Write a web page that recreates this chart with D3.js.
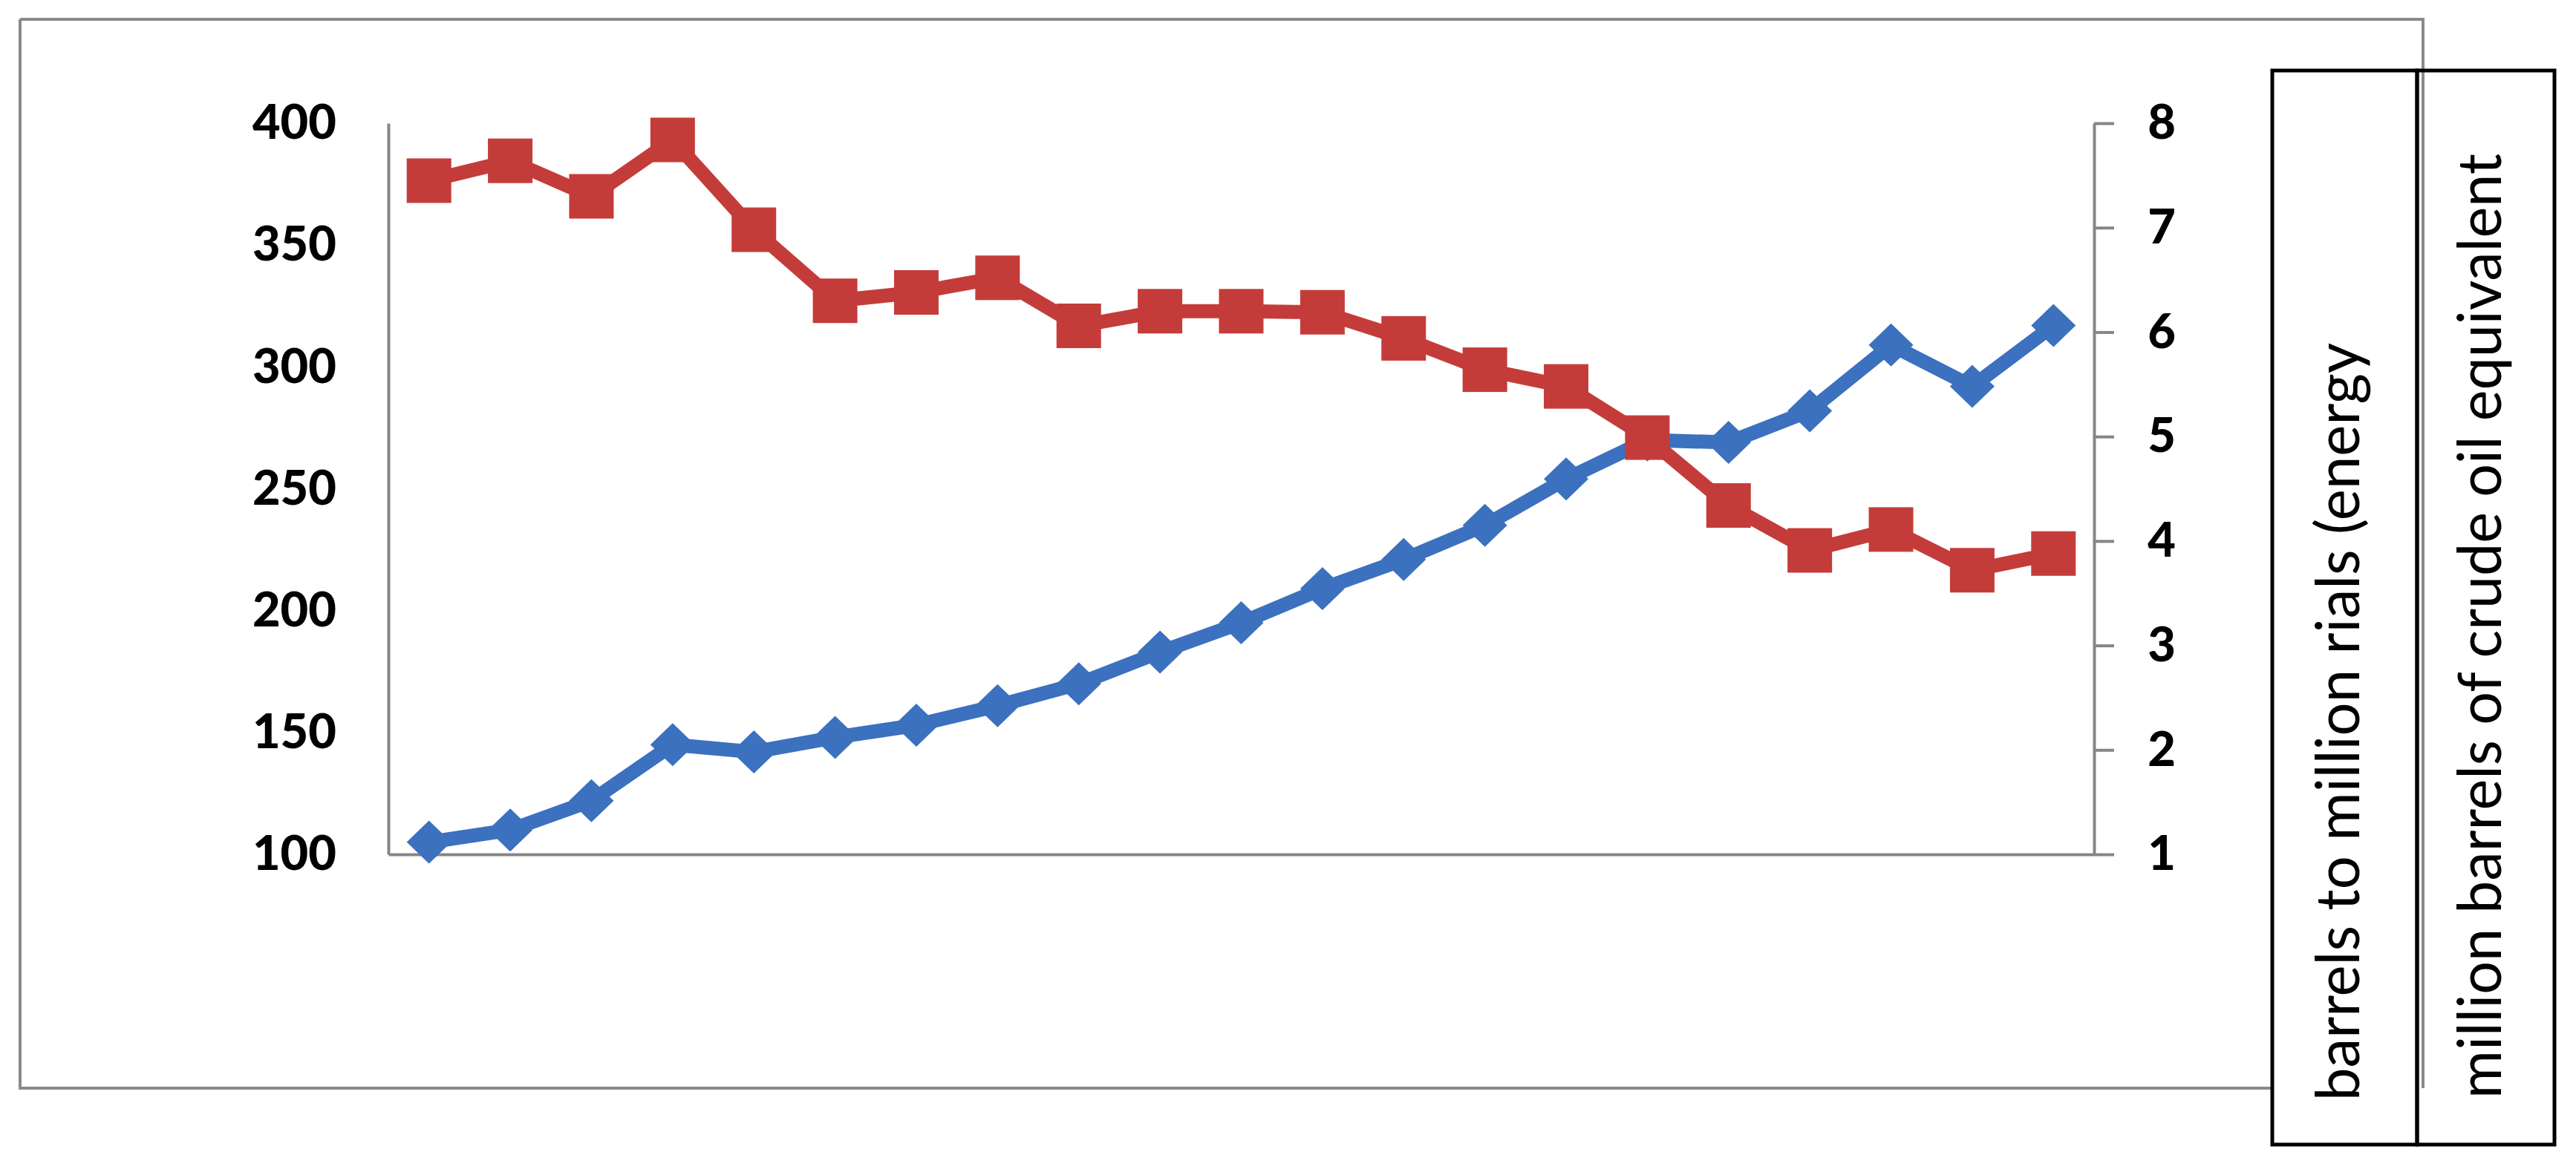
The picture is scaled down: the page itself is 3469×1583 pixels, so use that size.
<!DOCTYPE html>
<html>
<head>
<meta charset="utf-8">
<script src="https://cdn.jsdelivr.net/npm/d3@7"></script>
<style>
  html, body { margin: 0; padding: 0; background: #fff; }
  #chart-canvas svg { display: block; }
</style>
</head>
<body>
<div id="chart-canvas"></div>
<script>
// 21 yearly observations, the x axis carries no labels in the original
var YEARS = d3.range(1, 22);

// left axis: million barrels of crude oil equivalent
var CONSUMPTION = [105, 110, 122, 145, 142, 148, 153, 161, 170, 183, 195,
  209, 221, 235, 254, 270, 269, 282, 309, 292, 317];

// right axis: barrels to million rials (energy intensity)
var INTENSITY = [7.45, 7.64, 7.30, 7.84, 6.98, 6.30, 6.38, 6.52, 6.06, 6.20, 6.20,
  6.19, 5.94, 5.64, 5.48, 4.99, 4.34, 3.91, 4.11, 3.72, 3.88];

var LEFT_TICKS = [100, 150, 200, 250, 300, 350, 400];
var RIGHT_TICKS = [1, 2, 3, 4, 5, 6, 7, 8];

var LABEL_INTENSITY = "barrels to million rials (energy";
var LABEL_CONSUMPTION = "million barrels of crude oil equivalent";

var W = 3469, H = 1583;
var plot = { left: 523, right: 2820, top: 166, bottom: 1151 };
var AXIS_GREY = "#868686";
var BLUE = "#3b71be", RED = "#c43c3a";

var svg = d3.select("#chart-canvas").append("svg")
  .attr("width", W).attr("height", H)
  .style("font-family", "Lato, 'Open Sans', sans-serif");

svg.append("rect").attr("width", W).attr("height", H).attr("fill", "#fff");

// outer chart frame (bottom edge stops where the label boxes start)
var frame = svg.append("g").attr("stroke", "#8a8a8a").attr("stroke-width", 4).attr("fill", "none");
frame.append("path").attr("d", "M27,26 L3263,26 L3263,1466");
frame.append("path").attr("d", "M27,26 L27,1466 L3060,1466");

var x = d3.scalePoint().domain(YEARS).range([plot.left, plot.right]).padding(0.5);
var yLeft = d3.scaleLinear().domain([100, 400]).range([plot.bottom, plot.top]);
var yRight = d3.scaleLinear().domain([1, 8]).range([plot.bottom, plot.top]);

// axes
var gLeft = svg.append("g").attr("transform", "translate(" + plot.left + ",0)")
  .call(d3.axisLeft(yLeft).tickValues(LEFT_TICKS).tickFormat(d3.format("d"))
    .tickSize(0).tickPadding(70));

var gRight = svg.append("g").attr("transform", "translate(" + plot.right + ",0)")
  .call(d3.axisRight(yRight).tickValues(RIGHT_TICKS).tickFormat(d3.format("d"))
    .tickSizeInner(27).tickSizeOuter(0).tickPadding(64));

var gBottom = svg.append("g").attr("transform", "translate(0," + plot.bottom + ")")
  .call(d3.axisBottom(x).tickSize(0).tickFormat(""));

[gLeft, gRight, gBottom].forEach(function(g) {
  g.select(".domain").attr("stroke", AXIS_GREY).attr("stroke-width", 4);
  g.selectAll(".tick line").attr("stroke", AXIS_GREY).attr("stroke-width", 4);
  g.selectAll(".tick text")
    .attr("fill", "#000")
    .style("font-family", "Lato, sans-serif")
    .style("font-weight", "900")
    .style("font-size", "65px");
});
gRight.selectAll(".tick text").attr("text-anchor", "middle");

// series lines
var lineLeft = d3.line()
  .x(function(d, i) { return x(YEARS[i]); })
  .y(function(d) { return yLeft(d); });

var lineRight = d3.line()
  .x(function(d, i) { return x(YEARS[i]); })
  .y(function(d) { return yRight(d); });

svg.append("path").datum(CONSUMPTION)
  .attr("d", lineLeft)
  .attr("fill", "none").attr("stroke", BLUE).attr("stroke-width", 19)
  .attr("stroke-linejoin", "round");

svg.selectAll("path.diamond")
  .data(CONSUMPTION)
  .enter().append("path")
  .attr("class", "diamond")
  .attr("d", function(d, i) {
    var cx = x(YEARS[i]), cy = yLeft(d), rx = 30, ry = 29;
    return "M" + cx + "," + (cy - ry) + "L" + (cx + rx) + "," + cy +
      "L" + cx + "," + (cy + ry) + "L" + (cx - rx) + "," + cy + "Z";
  })
  .attr("fill", BLUE);

svg.append("path").datum(INTENSITY)
  .attr("d", lineRight)
  .attr("fill", "none").attr("stroke", RED).attr("stroke-width", 19)
  .attr("stroke-linejoin", "round");

var SQ = 60;
svg.selectAll("rect.square")
  .data(INTENSITY)
  .enter().append("rect")
  .attr("class", "square")
  .attr("x", function(d, i) { return x(YEARS[i]) - SQ / 2; })
  .attr("y", function(d) { return yRight(d) - SQ / 2; })
  .attr("width", SQ).attr("height", SQ)
  .attr("fill", RED);

// the two boxed axis titles on the right
var boxes = svg.append("g").attr("fill", "none").attr("stroke", "#000").attr("stroke-width", 5);
boxes.append("rect").attr("x", 3060).attr("y", 95).attr("width", 195).attr("height", 1447);
boxes.append("rect").attr("x", 3255).attr("y", 95).attr("width", 185).attr("height", 1447);

svg.append("text")
  .attr("transform", "translate(3177,1483) rotate(-90)")
  .attr("textLength", 1021).attr("lengthAdjust", "spacingAndGlyphs")
  .style("font-size", "82px").attr("fill", "#000")
  .text(LABEL_INTENSITY);

svg.append("text")
  .attr("transform", "translate(3368,1480) rotate(-90)")
  .attr("textLength", 1273).attr("lengthAdjust", "spacingAndGlyphs")
  .style("font-size", "82px").attr("fill", "#000")
  .text(LABEL_CONSUMPTION);
</script>
</body>
</html>
